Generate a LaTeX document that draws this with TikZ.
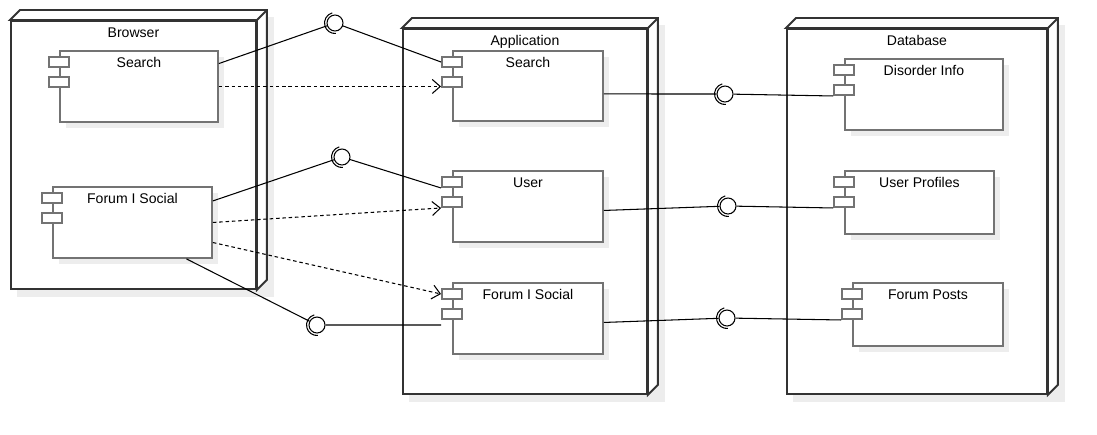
\documentclass[tikz,border=0pt]{standalone}
\usepackage{fontspec}
\setmainfont{Liberation Sans}
\usetikzlibrary{arrows.meta,shadows}
\pgfdeclarelayer{bg}
\pgfsetlayers{bg,main}

% deployment node: name, position, width, height, title
\newcommand{\depnode}[5]{%
  \node[nodebox,minimum width=#3,minimum height=#4,label={[ttl]north:#5}] (#1) at (#2) {};
  \begin{pgfonlayer}{bg}
    \fill[black!7] ([shift={(7,-3)}]#1.north west) rectangle ([shift={(17,7)}]#1.south east);
  \end{pgfonlayer}
  \filldraw[nodeside] (#1.north west) -- ++(10,-10) -- ([shift={(10,-10)}]#1.north east) -- ([shift={(10,-10)}]#1.south east) -- (#1.south east) -- (#1.north east) -- cycle;
  \draw[nodeside] (#1.north east) -- ++(10,-10);
}
% component with its two ports
\newcommand{\compo}[5]{%
  \node[compbox,minimum width=#3,minimum height=#4,label={[ttl]north:#5}] (#1) at (#2) {};
  \node[port] (#1-p1) at ([shift={(0,12)}]#1.north west) {};
  \node[port] (#1-p2) at ([shift={(0,32)}]#1.north west) {};
}

\begin{document}
\begin{tikzpicture}[x=0.02cm,y=-0.02cm,
    nodebox/.style={rectangle,draw=black!80,line width=1.1pt,fill=white,anchor=north west,inner sep=0},
    nodeside/.style={draw=black!80,line width=1.1pt,fill=white},
    compbox/.style={rectangle,draw=black!55,line width=1.1pt,fill=white,anchor=north west,inner sep=0,
        drop shadow={shadow xshift=0.13cm,shadow yshift=-0.13cm,fill=black!7,opacity=1}},
    port/.style={rectangle,draw=black!55,line width=1.1pt,fill=white,minimum width=0.4cm,minimum height=0.2cm,inner sep=0},
    ttl/.style={anchor=north,inner sep=0,yshift=-4pt,font=\fontsize{8}{10}\selectfont},
    iface/.style={circle,draw,fill=white,minimum size=0.32cm,inner sep=0,line width=0.6pt},
    sock/.style={line width=0.6pt},
    wire/.style={line width=0.6pt},
    usedep/.style={wire,dash pattern=on 2pt off 1.6pt,-{Straight Barb[length=1.6mm,width=2.8mm]}}]
    \useasboundingbox (0,0) rectangle (1097,434);

    % nodes
    \depnode{br}{10,20}{4.9cm}{5.36cm}{Browser}
    \depnode{app}{402,28}{4.88cm}{7.3cm}{Application}
    \depnode{db}{786,28}{5.2cm}{7.3cm}{Database}

    % components
    \compo{bS}{59,50}{3.16cm}{1.42cm}{Search}
    \compo{bF}{52,186}{3.18cm}{1.42cm}{Forum I Social}
    \compo{aS}{452,50}{3cm}{1.4cm}{Search}
    \compo{aU}{452,170}{3cm}{1.42cm}{User}
    \compo{aF}{452,282}{3cm}{1.42cm}{Forum I Social}
    \compo{dI}{844,58}{3.16cm}{1.42cm}{Disorder Info}
    \compo{dP}{844,170}{2.98cm}{1.26cm}{User Profiles}
    \compo{dF}{852,282}{3cm}{1.26cm}{Forum Posts}

    % interfaces
    \node[iface] (i1) at (335,23) {};
    \node[iface] (i2) at (342,157) {};
    \node[iface] (i3) at (317,325) {};
    \node[iface] (i4) at (725,94) {};
    \node[iface] (i5) at (728,206) {};
    \node[iface] (i6) at (727,318) {};
    \foreach \i in {i1,i2,i3,i4,i5,i6}
        \draw[sock] (\i) ++(105:0.21cm) arc[start angle=105,end angle=275,radius=0.21cm];

    \draw[wire] (bS.16) -- (i1) -- (aS-p1.west);
    \draw[wire] (bF.15) -- (i2) -- (aU-p1.south west);
    \draw[wire] (bF.-34) -- (i3) -- (aF-p2.west |- i3);
    \draw[wire] (aS.-6) -- (i4) -- (dI-p2.south west);
    \draw[wire] (aU.-3) -- (i5) -- (dP-p2.south west);
    \draw[wire] (aF.-3) -- (i6) -- (dF-p2.south west);

    % dependencies
    \draw[usedep] (bS.east) -- (aS-p2.west |- bS.east);
    \draw[usedep] (bF.east) -- (aU-p2.south west);
    \draw[usedep] (bF.-14) -- (aF-p1.west);
\end{tikzpicture}
\end{document}
